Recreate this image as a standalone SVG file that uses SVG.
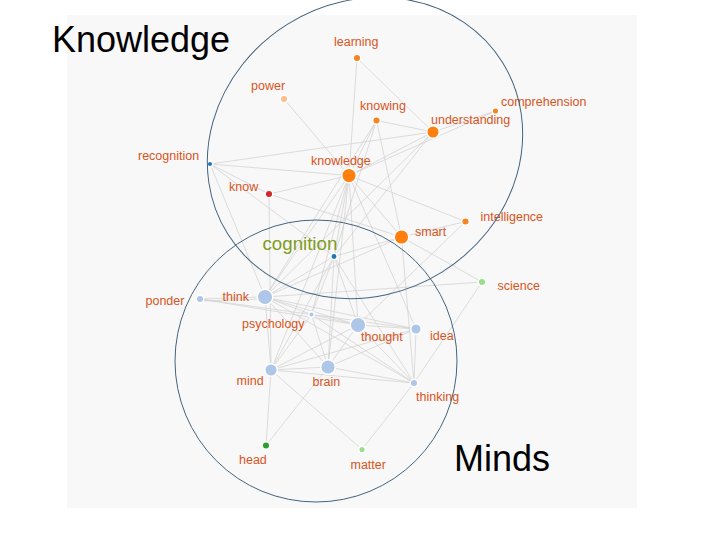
<svg xmlns="http://www.w3.org/2000/svg" width="720" height="540" viewBox="0 0 720 540">
<style>
.e{stroke:#cfcfcf;stroke-opacity:0.7;stroke-width:1;fill:none}
.n circle{stroke:#fff;stroke-width:1.5}
.lbl{font-family:"Liberation Sans",Arial,sans-serif;font-size:12.5px;fill:#d9541c}
.big{font-family:"Liberation Sans",Arial,sans-serif;font-size:36px;fill:#000}
.ring{fill:none;stroke:#45637f;stroke-width:1}
</style>
<rect x="0" y="0" width="720" height="540" fill="#fff"/>
<rect x="67" y="15" width="570" height="493" fill="#f8f8f8"/>
<g id="connectors">
<line class="e" x1="357" y1="58" x2="349" y2="175.5"/>
<line class="e" x1="357" y1="58" x2="433" y2="132"/>
<line class="e" x1="376.5" y1="120.5" x2="433" y2="132"/>
<line class="e" x1="376.5" y1="120.5" x2="349" y2="175.5"/>
<line class="e" x1="376.5" y1="120.5" x2="401.5" y2="237"/>
<line class="e" x1="376.5" y1="120.5" x2="334" y2="256.5"/>
<line class="e" x1="376.5" y1="120.5" x2="265" y2="297"/>
<line class="e" x1="433" y1="132" x2="495.5" y2="111"/>
<line class="e" x1="495.5" y1="111" x2="349" y2="175.5"/>
<line class="e" x1="433" y1="132" x2="210" y2="164"/>
<line class="e" x1="433" y1="132" x2="349" y2="175.5"/>
<line class="e" x1="433" y1="132" x2="334" y2="256.5"/>
<line class="e" x1="433" y1="132" x2="265" y2="297"/>
<line class="e" x1="284" y1="99" x2="349" y2="175.5"/>
<line class="e" x1="210" y1="164" x2="349" y2="175.5"/>
<line class="e" x1="210" y1="164" x2="269" y2="194"/>
<line class="e" x1="210" y1="164" x2="334" y2="256.5"/>
<line class="e" x1="210" y1="164" x2="265" y2="297"/>
<line class="e" x1="269" y1="194" x2="349" y2="175.5"/>
<line class="e" x1="269" y1="194" x2="401.5" y2="237"/>
<line class="e" x1="269" y1="194" x2="271" y2="370"/>
<line class="e" x1="349" y1="175.5" x2="465.5" y2="221.5"/>
<line class="e" x1="349" y1="175.5" x2="401.5" y2="237"/>
<line class="e" x1="349" y1="175.5" x2="334" y2="256.5"/>
<line class="e" x1="349" y1="175.5" x2="265" y2="297"/>
<line class="e" x1="349" y1="175.5" x2="311.5" y2="314.5"/>
<line class="e" x1="349" y1="175.5" x2="328" y2="367"/>
<line class="e" x1="349" y1="175.5" x2="271" y2="370"/>
<line class="e" x1="349" y1="175.5" x2="358" y2="325"/>
<line class="e" x1="349" y1="175.5" x2="416" y2="329"/>
<line class="e" x1="401.5" y1="237" x2="465.5" y2="221.5"/>
<line class="e" x1="401.5" y1="237" x2="482" y2="282"/>
<line class="e" x1="401.5" y1="237" x2="334" y2="256.5"/>
<line class="e" x1="401.5" y1="237" x2="265" y2="297"/>
<line class="e" x1="401.5" y1="237" x2="414" y2="383"/>
<line class="e" x1="465.5" y1="221.5" x2="358" y2="325"/>
<line class="e" x1="482" y1="282" x2="414" y2="383"/>
<line class="e" x1="482" y1="282" x2="265" y2="297"/>
<line class="e" x1="334" y1="256.5" x2="265" y2="297"/>
<line class="e" x1="334" y1="256.5" x2="311.5" y2="314.5"/>
<line class="e" x1="334" y1="256.5" x2="328" y2="367"/>
<line class="e" x1="334" y1="256.5" x2="271" y2="370"/>
<line class="e" x1="334" y1="256.5" x2="358" y2="325"/>
<line class="e" x1="334" y1="256.5" x2="414" y2="383"/>
<line class="e" x1="200" y1="299" x2="265" y2="297"/>
<line class="e" x1="200" y1="301" x2="265" y2="299"/>
<line class="e" x1="200" y1="299" x2="358" y2="325"/>
<line class="e" x1="200" y1="299" x2="416" y2="329"/>
<line class="e" x1="265" y1="297" x2="311.5" y2="314.5"/>
<line class="e" x1="265" y1="297" x2="358" y2="325"/>
<line class="e" x1="265" y1="297" x2="416" y2="329"/>
<line class="e" x1="265" y1="297" x2="328" y2="367"/>
<line class="e" x1="265" y1="297" x2="271" y2="370"/>
<line class="e" x1="265" y1="297" x2="414" y2="383"/>
<line class="e" x1="311.5" y1="314.5" x2="358" y2="325"/>
<line class="e" x1="311.5" y1="314.5" x2="328" y2="367"/>
<line class="e" x1="311.5" y1="314.5" x2="271" y2="370"/>
<line class="e" x1="311.5" y1="314.5" x2="414" y2="383"/>
<line class="e" x1="358" y1="325" x2="416" y2="329"/>
<line class="e" x1="358" y1="325" x2="328" y2="367"/>
<line class="e" x1="358" y1="325" x2="271" y2="370"/>
<line class="e" x1="358" y1="325" x2="414" y2="383"/>
<line class="e" x1="416" y1="329" x2="414" y2="383"/>
<line class="e" x1="416" y1="329" x2="328" y2="367"/>
<line class="e" x1="416" y1="329" x2="271" y2="370"/>
<line class="e" x1="271" y1="370" x2="328" y2="367"/>
<line class="e" x1="271" y1="370" x2="414" y2="383"/>
<line class="e" x1="271" y1="370" x2="266" y2="445.5"/>
<line class="e" x1="271" y1="370" x2="362" y2="449.5"/>
<line class="e" x1="328" y1="367" x2="414" y2="383"/>
<line class="e" x1="328" y1="367" x2="266" y2="445.5"/>
<line class="e" x1="414" y1="383" x2="362" y2="449.5"/>
</g>
<g id="node-learning" class="n"><circle cx="357" cy="58" r="3.8" fill="#f7851e"/><text class="lbl" x="334" y="46">learning</text></g>
<g id="node-power" class="n"><circle cx="284" cy="99" r="3.8" fill="#fdbf86"/><text class="lbl" x="251" y="90">power</text></g>
<g id="node-knowing" class="n"><circle cx="376.5" cy="120.5" r="3.8" fill="#f7851e"/><text class="lbl" x="360" y="110">knowing</text></g>
<g id="node-understanding" class="n"><circle cx="433" cy="132" r="6.3" fill="#ff7f0e"/><text class="lbl" x="431" y="124">understanding</text></g>
<g id="node-comprehension" class="n"><circle cx="495.5" cy="111" r="3.3" fill="#f7851e"/><text class="lbl" x="501" y="106">comprehension</text></g>
<g id="node-recognition" class="n"><circle cx="210" cy="164" r="2.8" fill="#1f77b4"/><text class="lbl" x="138" y="160">recognition</text></g>
<g id="node-knowledge" class="n"><circle cx="349" cy="175.5" r="7.3" fill="#ff7f0e"/><text class="lbl" x="311" y="165">knowledge</text></g>
<g id="node-know" class="n"><circle cx="269" cy="194" r="3.8" fill="#d62728"/><text class="lbl" x="229" y="190.5">know</text></g>
<g id="node-intelligence" class="n"><circle cx="465.5" cy="221.5" r="3.8" fill="#f7851e"/><text class="lbl" x="480.5" y="220.5">intelligence</text></g>
<g id="node-smart" class="n"><circle cx="401.5" cy="237" r="7.3" fill="#ff7f0e"/><text class="lbl" x="415" y="235.5">smart</text></g>
<g id="node-cognition" class="n"><circle cx="334" cy="256.5" r="3.2" fill="#1f77b4"/><text x="262.5" y="250" font-family="Liberation Sans, Arial, sans-serif" font-size="18.7" fill="#7f9c1e">cognition</text></g>
<g id="node-science" class="n"><circle cx="482" cy="282" r="3.8" fill="#98df8a"/><text class="lbl" x="497.5" y="290">science</text></g>
<g id="node-ponder" class="n"><circle cx="200" cy="299" r="3.8" fill="#aec7e8"/><text class="lbl" x="145.5" y="305">ponder</text></g>
<g id="node-think" class="n"><circle cx="265" cy="297" r="7.8" fill="#aec7e8"/><text class="lbl" x="222.5" y="301">think</text></g>
<g id="node-psychology" class="n"><circle cx="311.5" cy="314.5" r="2.8" fill="#aec7e8"/><text class="lbl" x="242" y="327.5">psychology</text></g>
<g id="node-thought" class="n"><circle cx="358" cy="325" r="7.8" fill="#aec7e8"/><text class="lbl" x="361" y="340.5">thought</text></g>
<g id="node-idea" class="n"><circle cx="416" cy="329" r="5.3" fill="#aec7e8"/><text class="lbl" x="430" y="340">idea</text></g>
<g id="node-mind" class="n"><circle cx="271" cy="370" r="6.3" fill="#aec7e8"/><text class="lbl" x="236.5" y="385">mind</text></g>
<g id="node-brain" class="n"><circle cx="328" cy="367" r="7.3" fill="#aec7e8"/><text class="lbl" x="312.5" y="386">brain</text></g>
<g id="node-thinking" class="n"><circle cx="414" cy="383" r="3.8" fill="#aec7e8"/><text class="lbl" x="416" y="400.5">thinking</text></g>
<g id="node-head" class="n"><circle cx="266" cy="445.5" r="3.8" fill="#2ca02c"/><text class="lbl" x="239" y="463.5">head</text></g>
<g id="node-matter" class="n"><circle cx="362" cy="449.5" r="3.3" fill="#98df8a"/><text class="lbl" x="350.5" y="468.5">matter</text></g>
<g id="group-knowledge"><ellipse class="ring" cx="365" cy="148" rx="162" ry="146" transform="rotate(-32 365 148)"/><text class="big" x="52" y="52">Knowledge</text></g>
<g id="group-minds"><circle class="ring" cx="316" cy="361" r="141"/><text class="big" x="454" y="471">Minds</text></g>
</svg>
